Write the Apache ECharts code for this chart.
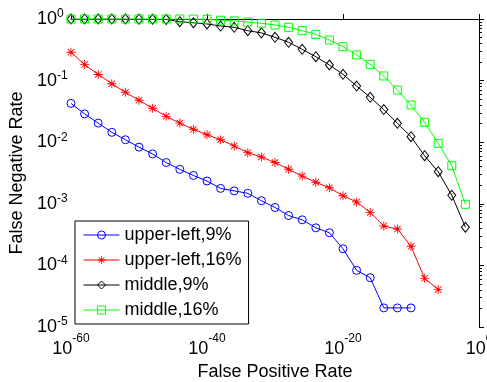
<!DOCTYPE html>
<html>
<head>
<meta charset="utf-8">
<script src="https://cdn.jsdelivr.net/npm/echarts@6/dist/echarts.min.js"></script>
<style>
  html, body { margin: 0; padding: 0; background: #fff; }
  #main { width: 487px; height: 382px; }
</style>
</head>
<body>
<div id="main"></div>
<script>
  // x positions: exponent of the false positive rate (10^x)
  var fprExp = [-60, -58, -56, -54, -52, -50, -48, -46, -44, -42, -40, -38, -36, -34, -32,
                -30, -28, -26, -24, -22, -20, -18, -16, -14, -12, -10, -8, -6, -4, -2];

  // log10 of the false negative rate
  var upperLeft9 = [-1.37, -1.54, -1.69, -1.84, -1.96, -2.08, -2.19, -2.33, -2.44, -2.54,
                    -2.63, -2.75, -2.79, -2.83, -2.95, -3.06, -3.19, -3.26, -3.39, -3.47,
                    -3.73, -4.08, -4.20, -4.69, -4.69, -4.69];
  var upperLeft16 = [-0.54, -0.74, -0.90, -1.05, -1.19, -1.32, -1.45, -1.58, -1.69, -1.79,
                     -1.88, -1.96, -2.06, -2.17, -2.24, -2.33, -2.44, -2.55, -2.65, -2.74,
                     -2.87, -2.97, -3.14, -3.36, -3.41, -3.69, -4.21, -4.39];
  var middle9 = [0, 0, 0, 0, 0, -0.002, -0.004, -0.008, -0.044, -0.06,
                 -0.08, -0.114, -0.135, -0.19, -0.225, -0.297, -0.378, -0.492, -0.612, -0.747,
                 -0.898, -1.088, -1.271, -1.47, -1.693, -1.911, -2.219, -2.479, -2.862, -3.381];
  var middle16 = [0, 0, 0, 0, 0, 0, 0, 0, 0, 0,
                  -0.005, -0.02, -0.03, -0.05, -0.07, -0.097, -0.135, -0.19, -0.249, -0.341,
                  -0.449, -0.584, -0.736, -0.925, -1.153, -1.396, -1.677, -2.018, -2.381, -3.008];

  var seriesNames = ['upper-left,9%', 'upper-left,16%', 'middle,9%', 'middle,16%'];
  var seriesColors = ['#0000ff', '#ff0000', '#000000', '#00ff00'];

  // tick labels (exponents)
  var xTicks = [-60, -40, -20, 0];
  var yTicks = [-5, -4, -3, -2, -1, 0];

  var font = "'Liberation Sans', Arial, sans-serif";

  // minor ticks at log10(2..9) inside each decade
  var yMinor = [];
  for (var d = -5; d < 0; d++) {
    for (var k = 2; k <= 9; k++) yMinor.push(d + Math.log10(k));
  }

  function pairs(vals) {
    return vals.map(function (v, i) { return [fprExp[i], v]; });
  }

  var star = 'path://M0 4.5H10V5.5H0Z M4.5 0H5.5V10H4.5Z M1.1 1.8L1.8 1.1L8.9 8.2L8.2 8.9Z M8.2 1.1L8.9 1.8L1.8 8.9L1.1 8.2Z';

  var lineColor = { color: '#000', width: 1 };

  var myChart = echarts.init(document.getElementById('main'), null, { renderer: 'canvas' });
  var option = {
    animation: false,
    backgroundColor: '#fff',
    textStyle: { fontFamily: font },
    grid: { left: 71, top: 19, right: 8, bottom: 55, containLabel: false, outerBoundsMode: 'none' },
    legend: {
      left: 75,
      top: 221,
      orient: 'vertical',
      backgroundColor: '#fff',
      borderColor: '#000',
      borderWidth: 1,
      borderRadius: 0,
      padding: [5, 7, 5, 8],
      itemGap: 7,
      itemWidth: 36,
      itemHeight: 10,
      lineStyle: { width: 1 },
      itemStyle: { borderWidth: 1 },
      textStyle: { fontSize: 18, color: '#000', fontFamily: font },
      data: seriesNames
    },
    xAxis: [
      {
        type: 'value', position: 'bottom', min: -60, max: 0, interval: 20,
        axisLine: { lineStyle: lineColor },
        axisTick: { inside: true, length: 5, lineStyle: lineColor, customValues: xTicks },
        splitLine: { show: false },
        axisLabel: {
          margin: 6,
          customValues: xTicks,
          showMinLabel: true, showMaxLabel: true,
          formatter: function (v) { return '{b|10}{s|' + v + '}'; },
          rich: {
            b: { fontSize: 18, lineHeight: 33, color: '#000', fontFamily: font },
            s: { fontSize: 12, lineHeight: 12, verticalAlign: 'top', color: '#000', fontFamily: font }
          }
        },
        name: 'False Positive Rate',
        nameLocation: 'middle',
        nameGap: 33,
        nameTextStyle: { fontSize: 18, color: '#000', fontFamily: font }
      },
      {
        type: 'value', position: 'top', min: -60, max: 0, interval: 20,
        axisLine: { lineStyle: lineColor },
        axisTick: { inside: false, length: 4, lineStyle: lineColor },
        splitLine: { show: false },
        axisLabel: { show: false }
      }
    ],
    yAxis: [
      {
        type: 'value', position: 'left', min: -5, max: 0, interval: 1,
        axisLine: { lineStyle: lineColor },
        axisTick: { inside: true, length: 5, lineStyle: lineColor },
        splitLine: { show: false },
        axisLabel: {
          margin: 34,
          align: 'left',
          customValues: yTicks,
          showMinLabel: true, showMaxLabel: true,
          formatter: function (v) { return '{b|10}{s|' + v + '}'; },
          rich: {
            b: { fontSize: 18, lineHeight: 22, color: '#000', fontFamily: font },
            s: { fontSize: 12, lineHeight: 12, verticalAlign: 'top', color: '#000', fontFamily: font }
          }
        },
        name: 'False Negative Rate',
        nameLocation: 'middle',
        nameGap: 39,
        nameTextStyle: { fontSize: 18, color: '#000', fontFamily: font }
      },
      {
        type: 'value', position: 'left', min: -5, max: 0,
        axisLine: { show: false },
        axisTick: { inside: true, length: 3, lineStyle: lineColor, customValues: yMinor },
        splitLine: { show: false },
        axisLabel: { show: false }
      },
      {
        type: 'value', position: 'right', min: -5, max: 0, interval: 1,
        axisLine: { lineStyle: lineColor },
        axisTick: { inside: false, length: 5, lineStyle: lineColor },
        splitLine: { show: false },
        axisLabel: { show: false }
      },
      {
        type: 'value', position: 'right', min: -5, max: 0,
        axisLine: { show: false },
        axisTick: { inside: false, length: 3, lineStyle: lineColor, customValues: yMinor },
        splitLine: { show: false },
        axisLabel: { show: false }
      }
    ],
    series: [
      {
        name: seriesNames[0], type: 'line', data: pairs(upperLeft9),
        symbol: 'circle', symbolSize: 8, showAllSymbol: true,
        itemStyle: { color: 'rgba(0,0,0,0)', borderColor: seriesColors[0], borderWidth: 1 },
        lineStyle: { color: seriesColors[0], width: 1 }
      },
      {
        name: seriesNames[1], type: 'line', data: pairs(upperLeft16),
        symbol: star, symbolSize: 9, showAllSymbol: true,
        itemStyle: { color: seriesColors[1], borderWidth: 0 },
        lineStyle: { color: seriesColors[1], width: 1 }
      },
      {
        name: seriesNames[2], type: 'line', data: pairs(middle9),
        symbol: 'diamond', symbolSize: [8, 10], showAllSymbol: true,
        itemStyle: { color: 'rgba(0,0,0,0)', borderColor: seriesColors[2], borderWidth: 1 },
        lineStyle: { color: seriesColors[2], width: 1 }
      },
      {
        name: seriesNames[3], type: 'line', data: pairs(middle16),
        symbol: 'rect', symbolSize: 8, showAllSymbol: true,
        itemStyle: { color: 'rgba(0,0,0,0)', borderColor: seriesColors[3], borderWidth: 1 },
        lineStyle: { color: seriesColors[3], width: 1 }
      }
    ]
  };
  myChart.setOption(option);
</script>
</body>
</html>
